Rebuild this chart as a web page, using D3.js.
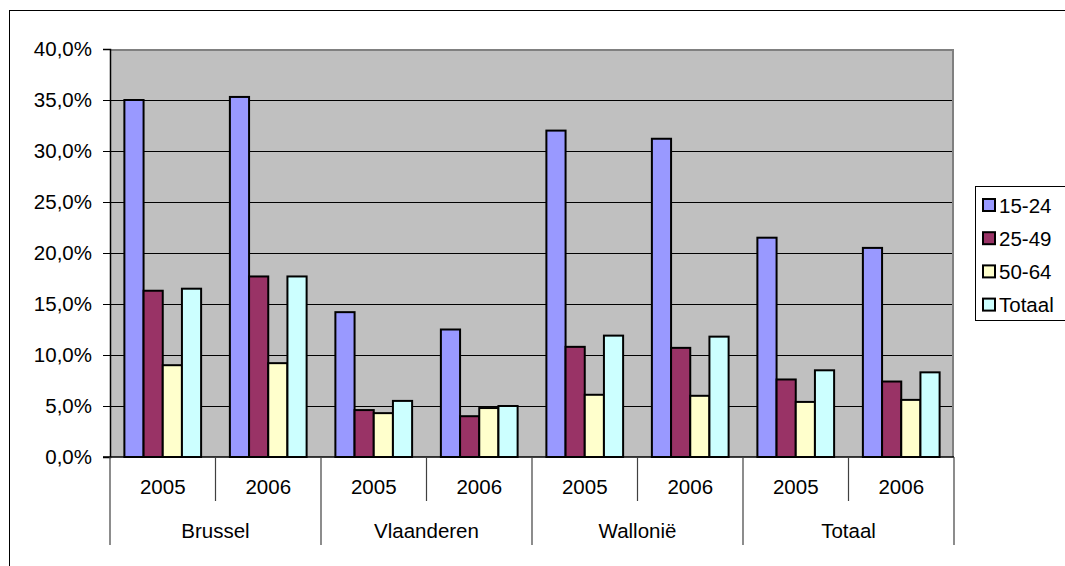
<!DOCTYPE html>
<html>
<head>
<meta charset="utf-8">
<script src="https://cdn.jsdelivr.net/npm/d3@7"></script>
<style>
  body { margin: 0; background: #fff; }
  text { font-family: Arial, "Liberation Sans", sans-serif; fill: #000; }
</style>
</head>
<body>
<div id="chart"></div>
<script>
const regions = ["Brussel", "Vlaanderen", "Wallonië", "Totaal"];
const years = ["2005", "2006"];
const seriesNames = ["15-24", "25-49", "50-64", "Totaal"];
const seriesColors = ["#9999ff", "#993366", "#ffffcc", "#ccffff"];

// one value per region/year, in the order Brussel 2005, Brussel 2006, ...
const age15to24 = [35.0, 35.3, 14.2, 12.5, 32.0, 31.2, 21.5, 20.5];
const age25to49 = [16.3, 17.7, 4.6, 4.0, 10.8, 10.7, 7.6, 7.4];
const age50to64 = [9.0, 9.2, 4.3, 4.8, 6.1, 6.0, 5.4, 5.6];
const ageTotaal = [16.5, 17.7, 5.5, 5.0, 11.9, 11.8, 8.5, 8.3];
const yTicks = [0, 5, 10, 15, 20, 25, 30, 35, 40];

const seriesValues = [age15to24, age25to49, age50to64, ageTotaal];
const cats = regions.flatMap(r => years.map(y => r + "|" + y));

const width = 1065, height = 566;
const plot = { left: 110, right: 954, top: 49, bottom: 457 };

const svg = d3.select("#chart").append("svg")
  .attr("width", width)
  .attr("height", height);

// outer chart border (runs off the page right and bottom)
svg.append("rect")
  .attr("x", 9.5).attr("y", 10.5)
  .attr("width", 1200).attr("height", 700)
  .attr("fill", "#fff").attr("stroke", "#000").attr("stroke-width", 1);

const x0 = d3.scaleBand().domain(cats).range([plot.left, plot.right]).padding(0);
const bw = x0.bandwidth();
const x1 = d3.scaleBand().domain(seriesNames)
  .range([bw * 0.75 / 5.5, bw * 4.75 / 5.5]).padding(0);
const y = d3.scaleLinear().domain([0, 40]).range([plot.bottom, plot.top]);

const loc = d3.formatLocale({ decimal: ",", thousands: ".", grouping: [3], currency: ["", "€"] });
const fmt = loc.format(".1f");

// plot background
svg.append("rect")
  .attr("x", plot.left).attr("y", plot.top)
  .attr("width", plot.right - plot.left).attr("height", plot.bottom - plot.top)
  .attr("fill", "#c0c0c0");

// gridlines
svg.append("g").selectAll("line")
  .data(yTicks.filter(t => t > 0 && t < 40))
  .enter().append("line")
  .attr("x1", plot.left).attr("x2", plot.right)
  .attr("y1", d => Math.round(y(d)) + 0.5).attr("y2", d => Math.round(y(d)) + 0.5)
  .attr("stroke", "#000").attr("stroke-width", 1);

// plot border top/right
svg.append("path")
  .attr("d", `M${plot.left},${plot.top + 1}H${plot.right - 1}V${plot.bottom}`)
  .attr("fill", "none").attr("stroke", "#808080").attr("stroke-width", 2);

// bars
const flat = [];
cats.forEach((c, i) => seriesNames.forEach((s, j) => flat.push({ cat: c, s: s, j: j, v: seriesValues[j][i] })));

svg.append("g").selectAll("rect")
  .data(flat)
  .enter().append("rect")
  .attr("x", d => x0(d.cat) + x1(d.s))
  .attr("y", d => y(d.v))
  .attr("width", x1.bandwidth())
  .attr("height", d => y(0) - y(d.v))
  .attr("fill", d => seriesColors[d.j])
  .attr("stroke", "#000")
  .attr("stroke-width", 2);

// y axis
const yAxis = svg.append("g")
  .attr("transform", `translate(${plot.left},0)`)
  .call(d3.axisLeft(y).tickValues(yTicks).tickSize(7).tickPadding(11).tickFormat(d => fmt(d) + "%"));
yAxis.select(".domain").attr("stroke", "#000").attr("stroke-width", 1.5);
yAxis.selectAll(".tick line").attr("stroke", "#000");
yAxis.selectAll("text").attr("font-size", "20.5px").attr("font-family", "Arial, 'Liberation Sans', sans-serif");

// baseline
svg.append("line")
  .attr("x1", plot.left - 7).attr("x2", plot.right)
  .attr("y1", plot.bottom).attr("y2", plot.bottom)
  .attr("stroke", "#000").attr("stroke-width", 1.5);

// category axis: year dividers and labels
const xg = svg.append("g");
cats.forEach((c, i) => {
  const left = x0(c);
  const isGroupEdge = i % years.length === 0;
  xg.append("line")
    .attr("x1", left).attr("x2", left)
    .attr("y1", plot.bottom).attr("y2", isGroupEdge ? 545 : 501)
    .attr("stroke", "#404040").attr("stroke-width", 1.2);
  xg.append("text")
    .attr("x", left + bw / 2).attr("y", 494)
    .attr("text-anchor", "middle")
    .attr("font-size", "20.5px")
    .text(c.split("|")[1]);
});
xg.append("line")
  .attr("x1", plot.right).attr("x2", plot.right)
  .attr("y1", plot.bottom).attr("y2", 545)
  .attr("stroke", "#404040").attr("stroke-width", 1.2);

regions.forEach(r => {
  const l = x0(r + "|" + years[0]);
  const rr = x0(r + "|" + years[years.length - 1]) + bw;
  xg.append("text")
    .attr("x", (l + rr) / 2).attr("y", 538)
    .attr("text-anchor", "middle")
    .attr("font-size", "20.5px")
    .text(r);
});

// legend
const legend = svg.append("g");
legend.append("rect")
  .attr("x", 975.5).attr("y", 186.5)
  .attr("width", 200).attr("height", 134)
  .attr("fill", "#fff").attr("stroke", "#000").attr("stroke-width", 1);

const item = legend.selectAll(".item")
  .data(seriesNames)
  .enter().append("g")
  .attr("transform", (d, i) => `translate(0,${205 + i * 33.2})`);

item.append("rect")
  .attr("x", 983).attr("y", -6)
  .attr("width", 12).attr("height", 12)
  .attr("fill", (d, i) => seriesColors[i])
  .attr("stroke", "#000").attr("stroke-width", 2);

item.append("text")
  .attr("x", 999).attr("y", 7.5)
  .attr("font-size", "20.5px")
  .text(d => d);
</script>
</body>
</html>
